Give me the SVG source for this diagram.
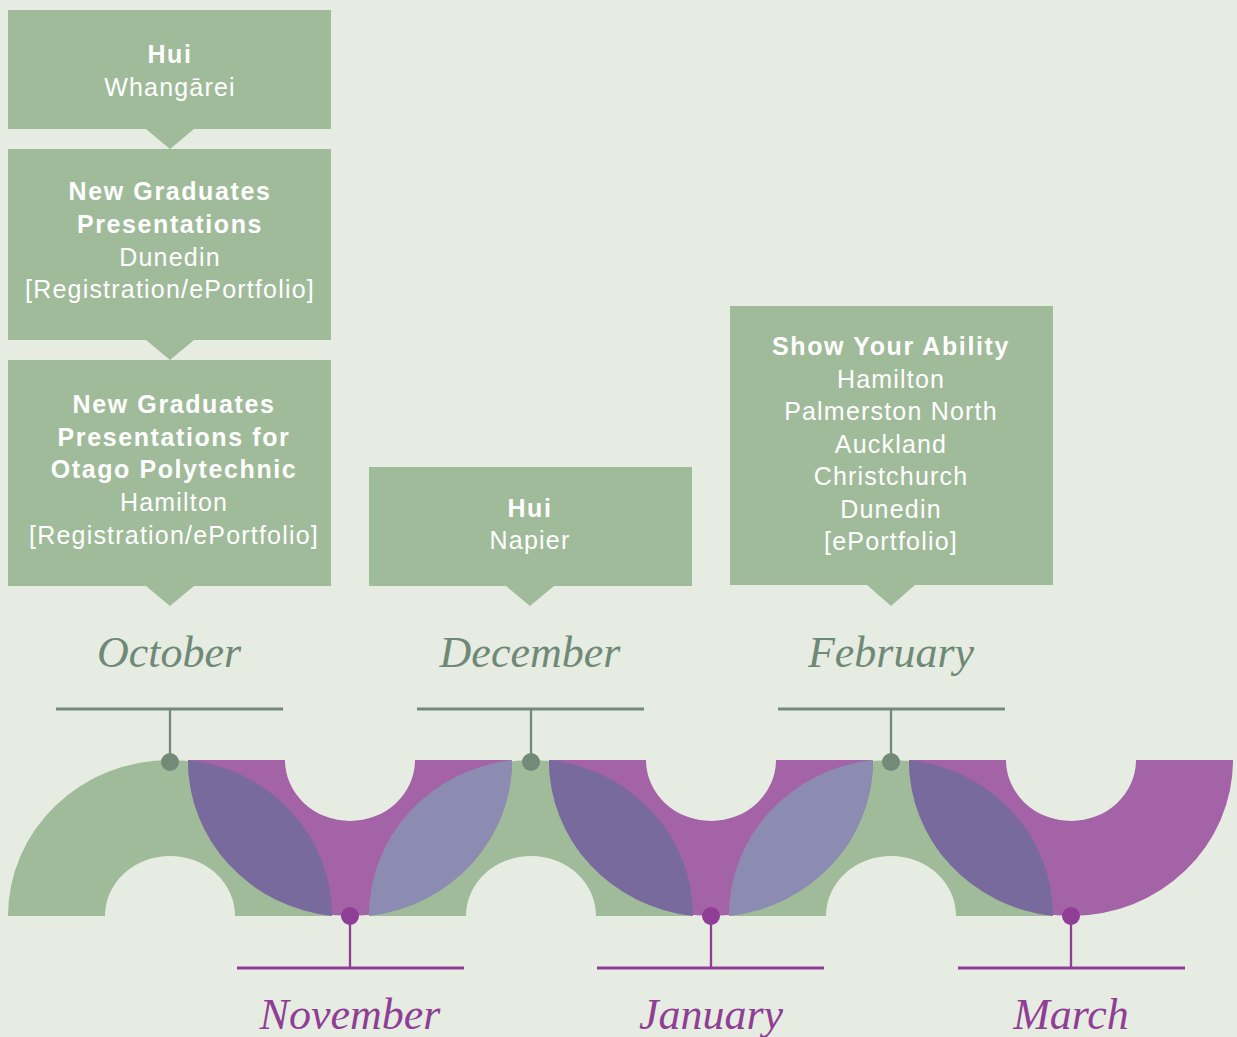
<svg xmlns="http://www.w3.org/2000/svg" width="1237" height="1037" viewBox="0 0 1237 1037">
<style>
.box{fill:#a0bb9a}
.t{font-family:"Liberation Sans",Arial,sans-serif;font-size:25px;fill:#ffffff;text-anchor:middle;letter-spacing:1.2px}
.b{font-weight:bold;letter-spacing:1.6px}
.mg{font-family:"Liberation Serif","Times New Roman",serif;font-style:italic;font-size:44px;fill:#6f8977;text-anchor:middle}
.mp{font-family:"Liberation Serif","Times New Roman",serif;font-style:italic;font-size:44px;fill:#8f3e96;text-anchor:middle}
.lg{stroke:#738a78;fill:none}
.lp{stroke:#8f3e96;fill:none}
.green{fill:#a0bb9a}
.purple{fill:#a463a6}
.dark{fill:#796a9e}
.light{fill:#8c8bb1}
</style>
<rect x="0" y="0" width="1237" height="1037" fill="#e7ece2"/>

<g id="band">
  <path class="green" d="M8,916 A162,156 0 0,1 332,916 L235,916 A65,60 0 0,0 105,916 Z"/>
  <path class="green" d="M369,916 A162,156 0 0,1 693,916 L596,916 A65,60 0 0,0 466,916 Z"/>
  <path class="green" d="M729,916 A162,156 0 0,1 1053,916 L956,916 A65,60 0 0,0 826,916 Z"/>
  <path class="purple" d="M188,760 A162,156 0 0,0 512,760 L415,760 A65,61 0 0,1 285,760 Z"/>
  <path class="purple" d="M549,760 A162,156 0 0,0 873,760 L776,760 A65,61 0 0,1 646,760 Z"/>
  <path class="purple" d="M909,760 A162,156 0 0,0 1233,760 L1136,760 A65,61 0 0,1 1006,760 Z"/>
  <path class="dark" d="M188,760 A162,156 0 0,1 332,916 A162,156 0 0,1 188,760 Z"/>
  <path class="dark" d="M549,760 A162,156 0 0,1 693,916 A162,156 0 0,1 549,760 Z"/>
  <path class="dark" d="M909,760 A162,156 0 0,1 1053,916 A162,156 0 0,1 909,760 Z"/>
  <path class="light" d="M512,760 A162,156 0 0,1 369,916 A162,156 0 0,1 512,760 Z"/>
  <path class="light" d="M873,760 A162,156 0 0,1 729,916 A162,156 0 0,1 873,760 Z"/>
</g>

<g id="connectors">
  <line class="lg" x1="56" y1="709" x2="283" y2="709" stroke-width="3"/>
  <line class="lg" x1="170" y1="709" x2="170" y2="760" stroke-width="2.3"/>
  <circle cx="170" cy="762" r="9" fill="#738a78"/>
  <line class="lg" x1="417" y1="709" x2="644" y2="709" stroke-width="3"/>
  <line class="lg" x1="531" y1="709" x2="531" y2="760" stroke-width="2.3"/>
  <circle cx="531" cy="762" r="9" fill="#738a78"/>
  <line class="lg" x1="778" y1="709" x2="1005" y2="709" stroke-width="3"/>
  <line class="lg" x1="891" y1="709" x2="891" y2="760" stroke-width="2.3"/>
  <circle cx="891" cy="762" r="9" fill="#738a78"/>

  <line class="lp" x1="237" y1="968" x2="464" y2="968" stroke-width="3"/>
  <line class="lp" x1="350" y1="918" x2="350" y2="968" stroke-width="2.3"/>
  <circle cx="350" cy="916" r="9" fill="#8f3e96"/>
  <line class="lp" x1="597" y1="968" x2="824" y2="968" stroke-width="3"/>
  <line class="lp" x1="711" y1="918" x2="711" y2="968" stroke-width="2.3"/>
  <circle cx="711" cy="916" r="9" fill="#8f3e96"/>
  <line class="lp" x1="958" y1="968" x2="1185" y2="968" stroke-width="3"/>
  <line class="lp" x1="1071" y1="918" x2="1071" y2="968" stroke-width="2.3"/>
  <circle cx="1071" cy="916" r="9" fill="#8f3e96"/>
</g>

<g id="months">
  <text class="mg" x="169" y="667">October</text>
  <text class="mg" x="530" y="667">December</text>
  <text class="mg" x="891" y="667">February</text>
  <text class="mp" x="350" y="1029">November</text>
  <text class="mp" x="711" y="1029">January</text>
  <text class="mp" x="1071" y="1029">March</text>
</g>

<g id="box-hui-whangarei">
  <path class="box" d="M8,10 H331 V129 H194 L170,149 L146,129 H8 Z"/>
  <text class="t b" x="170" y="63">Hui</text>
  <text class="t" x="170" y="96">Whangārei</text>
</g>

<g id="box-newgrad-dunedin">
  <path class="box" d="M8,149 H331 V340 H194 L170,360 L146,340 H8 Z"/>
  <text class="t b" x="170" y="200">New Graduates</text>
  <text class="t b" x="170" y="233">Presentations</text>
  <text class="t" x="170" y="266">Dunedin</text>
  <text class="t" x="170" y="298">[Registration/ePortfolio]</text>
</g>

<g id="box-newgrad-otago">
  <path class="box" d="M8,360 H331 V586 H194 L170,606 L146,586 H8 Z"/>
  <text class="t b" x="174" y="413">New Graduates</text>
  <text class="t b" x="174" y="446">Presentations for</text>
  <text class="t b" x="174" y="478">Otago Polytechnic</text>
  <text class="t" x="174" y="511">Hamilton</text>
  <text class="t" x="174" y="544">[Registration/ePortfolio]</text>
</g>

<g id="box-hui-napier">
  <path class="box" d="M369,467 H692 V586 H554 L530,606 L506,586 H369 Z"/>
  <text class="t b" x="530" y="517">Hui</text>
  <text class="t" x="530" y="549">Napier</text>
</g>

<g id="box-show-your-ability">
  <path class="box" d="M730,306 H1053 V585 H915 L891,606 L867,585 H730 Z"/>
  <text class="t b" x="891" y="355">Show Your Ability</text>
  <text class="t" x="891" y="388">Hamilton</text>
  <text class="t" x="891" y="420">Palmerston North</text>
  <text class="t" x="891" y="453">Auckland</text>
  <text class="t" x="891" y="485">Christchurch</text>
  <text class="t" x="891" y="518">Dunedin</text>
  <text class="t" x="891" y="550">[ePortfolio]</text>
</g>
</svg>
